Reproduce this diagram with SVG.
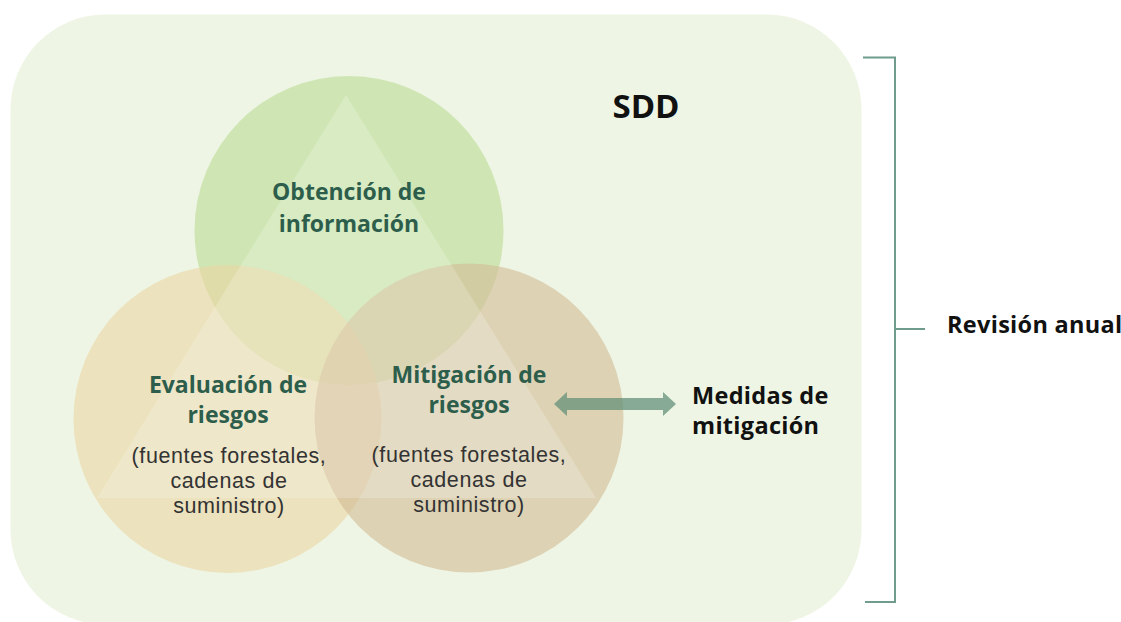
<svg xmlns="http://www.w3.org/2000/svg" width="1121" height="622" viewBox="0 0 1121 622">
<defs>
<style>
.title{font-family:"Open Sans","Liberation Sans",sans-serif;font-weight:700;font-size:23px;fill:#2D5E4C;text-anchor:middle}
.sub{font-family:"Liberation Sans",Arial,sans-serif;font-weight:400;font-size:21.5px;letter-spacing:0.6px;fill:#333;text-anchor:middle}
.lbl{font-family:"Open Sans","Liberation Sans",sans-serif;font-weight:700;font-size:23.5px;letter-spacing:0.3px;fill:#111}
.br{fill:none;stroke:#6F9C8C;stroke-width:2}
</style>
</defs>
<rect width="1121" height="622" fill="#ffffff"/>
<rect id="sdd-box" x="10.5" y="14.5" width="851" height="610" rx="95" ry="95" fill="#EEF5E4"/>
<g id="circles">
<g id="node-obtencion"><circle cx="349" cy="230.5" r="154.5" fill="#BADC94" opacity="0.6"/></g>
<g id="node-evaluacion"><circle cx="227.5" cy="419" r="154" fill="#EBD5A3" opacity="0.6"/></g>
<g id="node-mitigacion"><circle cx="469" cy="418" r="154.5" fill="#D2BB94" opacity="0.6"/></g>
<polygon points="346,95 97,498 596,498" fill="#ffffff" opacity="0.2"/>
</g>
<text x="646" y="118" font-family="Open Sans,Liberation Sans,sans-serif" font-weight="700" font-size="33" fill="#111" text-anchor="middle">SDD</text>
<text class="title" x="349" y="200">Obtención de</text>
<text class="title" x="349" y="232">información</text>
<text class="title" x="228" y="393">Evaluación de</text>
<text class="title" x="228" y="423">riesgos</text>
<text class="sub" x="229" y="463">(fuentes forestales,</text>
<text class="sub" x="229" y="488">cadenas de</text>
<text class="sub" x="229" y="513">suministro)</text>
<text class="title" x="469" y="383">Mitigación de</text>
<text class="title" x="469" y="413">riesgos</text>
<text class="sub" x="469" y="462">(fuentes forestales,</text>
<text class="sub" x="469" y="487">cadenas de</text>
<text class="sub" x="469" y="512">suministro)</text>
<g id="connectors">
<polygon id="arrow-medidas" points="554,404 567,392 567,398 663,398 663,392 676,404 663,416 663,410 567,410 567,416" fill="#5E8E76" opacity="0.72"/>
<path id="bracket" class="br" d="M863,57.5 H895 V602 H865 M895,329 H925"/>
</g>
<g id="node-medidas">
<text class="lbl" x="692" y="404">Medidas de</text>
<text class="lbl" x="692" y="434">mitigación</text>
</g>
<g id="node-revision">
<text class="lbl" x="947" y="333">Revisión anual</text>
</g>
</svg>
